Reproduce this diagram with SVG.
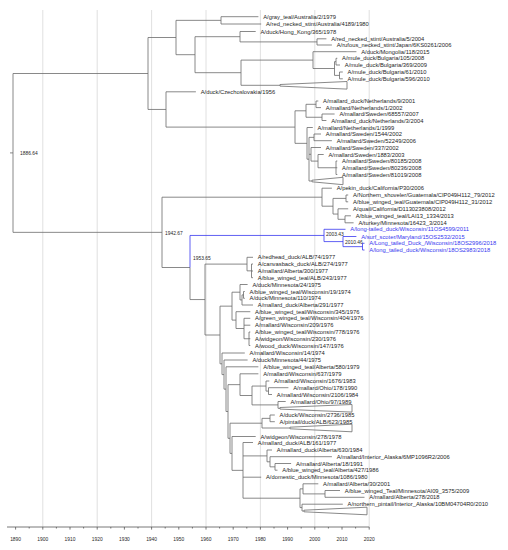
<svg xmlns="http://www.w3.org/2000/svg" width="508" height="550" viewBox="0 0 508 550">
<style>
.bg{fill:#fff}
.grid{stroke:#dcdcdc;stroke-width:0.9;fill:none}
.br{stroke:#6b6b6b;stroke-width:0.8;fill:none}
.bl{stroke:#3838f0;stroke-width:0.8;fill:none}
.tri{stroke:#6b6b6b;stroke-width:0.8;fill:none}
.ax{stroke:#555;stroke-width:0.8;fill:none}
text{font-family:"Liberation Sans",Arial,sans-serif;fill:#262626}
.lf{font-size:5.8px}
.lb{font-size:5.8px;fill:#3838f0}
.nd{font-size:4.9px}
.at{font-size:4.9px;text-anchor:middle}
</style>
<rect class="bg" x="0" y="0" width="508" height="550"/>
<g id="grid">
<path class="grid" d="M42.8,10V527 M97.2,10V527 M151.6,10V527 M206,10V527 M260.4,10V527 M314.8,10V527 M369.2,10V527"/>
</g>
<g id="connectors">
<path class="br" d="M10,152.9H13 M13,73.5V232.35 M13,73.5H148 M13,232.35H162"/>
<path class="br" d="M148,37.5V109.45 M148,37.5H176 M148,109.45H166"/>
<path class="br" d="M176,20.35V54.7 M176,20.35H221 M176,54.7H195"/>
<path class="br" d="M221,16.7V24 M221,16.7H258.4 M221,24H261.2"/>
<path class="br" d="M195,36.7V72.7 M195,36.7H240 M195,72.7H241"/>
<path class="br" d="M240,31.5V41.9 M240,31.5H255.7 M240,41.9H317"/>
<path class="br" d="M317,38.8V45 M317,38.8H326.4 M317,45H331.9"/>
<path class="br" d="M241,60.1V85.3 M241,60.1H313 M241,85.3H280"/>
<polygon class="tri" points="280,84.5 347,81.5 347,89.1 280,86.1"/>
<path class="br" d="M313,51.7V68.5 M313,51.7H356.4 M313,68.5H334.5"/>
<path class="br" d="M334.5,61.65V75.4 M334.5,61.65H336 M334.5,75.4H339.5"/>
<path class="br" d="M336,58.3V65 M336,58.3H337.3 M336,65H340"/>
<path class="br" d="M339.5,72V78.8 M339.5,72H342.8 M339.5,78.8H342.8"/>
<path class="br" d="M166,91.8V127.1 M166,91.8H195.9 M166,127.1H295"/>
<path class="br" d="M295,110.8V143.35 M295,110.8H306 M295,143.35H307"/>
<path class="br" d="M306,104.3V117.25 M306,104.3H316 M306,117.25H322"/>
<path class="br" d="M316,101V107.6 M316,101H318.3 M316,107.6H321"/>
<path class="br" d="M322,114V120.5 M322,114H334.6 M322,120.5H326.4"/>
<path class="br" d="M307,127.5V159.2 M307,127.5H312.8 M307,159.2H309"/>
<path class="br" d="M309,137.35V181 M309,137.35H314 M309,154.3H311 M309,181H312"/>
<polygon class="tri" points="312,180.2 343,177.3 343,184.7 312,181.8"/>
<path class="br" d="M314,134V140.7 M314,134H321 M314,140.7H331.9"/>
<path class="br" d="M311,147.5V161.1 M311,147.5H321 M311,161.1H318"/>
<path class="br" d="M318,154.5V167.75 M318,154.5H323.7 M318,167.75H336"/>
<path class="br" d="M336,161V174.5 M336,161H337.3 M336,167.75H337.3 M336,174.5H337.3"/>
<path class="br" d="M162,197.2V267.5 M162,197.2H322 M162,267.5H190"/>
<path class="br" d="M322,188.2V206.2 M322,188.2H331.9 M322,206.2H333"/>
<path class="br" d="M333,198.4V214.05 M333,198.4H346 M333,214.05H338"/>
<path class="br" d="M346,195V201.8 M346,195H348.2 M346,201.8H348.2"/>
<path class="br" d="M338,208.8V219.3 M338,208.8H348.2 M338,219.3H345"/>
<path class="br" d="M345,215.8V222.8 M345,215.8H350.9 M345,222.8H353.6"/>
<path class="br" d="M190,267.5V299.55 M190,299.55H205"/>
<path class="bl" d="M190,235.45V267.5 M190,235.45H324"/>
<path class="bl" d="M324,229.3V241.6 M324,229.3H345.5 M324,241.6H343"/>
<path class="bl" d="M343,236.5V246.65 M343,236.5H356.4 M343,246.65H362.5"/>
<path class="bl" d="M362.5,243.3V250 M362.5,243.3H364.5 M362.5,250H364.5"/>
<path class="br" d="M205,264.1V335 M205,264.1H247 M205,335H220"/>
<path class="br" d="M247,257.3V270.85 M247,257.3H253 M247,270.85H251.5"/>
<path class="br" d="M251.5,264V277.7 M251.5,264H253 M251.5,271H253 M251.5,277.7H253"/>
<path class="br" d="M220,306.15V363.8 M220,306.15H232 M220,363.8H222"/>
<path class="br" d="M232,292.2V320.1 M232,292.2H240 M232,320.1H236"/>
<path class="br" d="M240,284.5V299.95 M240,284.5H247.6 M240,299.95H242"/>
<path class="br" d="M242,294.9V305 M242,294.9H243.5 M242,305H253"/>
<path class="br" d="M243.5,291.5V298.3 M243.5,291.5H244.8 M243.5,298.3H244.8"/>
<path class="br" d="M236,311.7V328.5 M236,311.7H250.3 M236,328.5H244"/>
<path class="br" d="M244,318.3V338.75 M244,318.3H250.3 M244,325.2H250.3 M244,338.75H249"/>
<path class="br" d="M249,332V345.5 M249,332H250.3 M249,338.7H250.3 M249,345.5H250.3"/>
<path class="br" d="M222,353V374.6 M222,353H244.8 M222,374.6H224"/>
<path class="br" d="M224,360V389.15 M224,360H247.6 M224,389.15H226"/>
<path class="br" d="M226,366.8V411.5 M226,366.8H258.4 M226,411.5H228"/>
<path class="br" d="M228,384.65V438.3 M228,384.65H240 M228,438.3H230"/>
<path class="br" d="M240,373.8V395.5 M240,373.8H258.4 M240,395.5H252"/>
<path class="br" d="M252,386.05V404.9 M252,386.05H266 M252,404.9H278"/>
<path class="br" d="M266,381V391.1 M266,381H269.3 M266,391.1H268.5"/>
<path class="br" d="M268.5,387.7V394.5 M268.5,387.7H288.4 M268.5,394.5H272"/>
<path class="br" d="M278,401.5V408.3 M278,401.5H285.7 M278,408.3H280"/>
<polygon class="tri" points="280,407.5 352,404.5 352,412.1 280,409.1"/>
<path class="br" d="M230,423.2V453.4 M230,423.2H262 M230,453.4H232"/>
<path class="br" d="M262,418.35V428 M262,418.35H270 M262,428H290"/>
<polygon class="tri" points="290,427.2 352,424.2 352,431.8 290,428.8"/>
<path class="br" d="M270,415V421.7 M270,415H274.8 M270,421.7H274.8"/>
<path class="br" d="M232,436.5V470.35 M232,436.5H255.7 M232,470.35H243"/>
<path class="br" d="M243,442.5V498.2 M243,442.5H253 M243,455.9H267 M243,477.2H261.2 M243,498.2H300"/>
<path class="br" d="M267,450V461.8 M267,450H272 M267,461.8H270"/>
<path class="br" d="M270,456.7V466.85 M270,456.7H331.9 M270,466.85H275"/>
<path class="br" d="M275,463.5V470.2 M275,463.5H291.1 M275,470.2H277.5"/>
<path class="br" d="M300,488.85V507.6 M300,488.85H303 M300,507.6H302"/>
<path class="br" d="M303,483.8V493.9 M303,483.8H318.3 M303,493.9H325"/>
<path class="br" d="M325,490.5V497.3 M325,490.5H340 M325,497.3H364.5"/>
<path class="br" d="M302,504.2V511 M302,504.2H342.8 M302,511H304"/>
<polygon class="tri" points="304,510.2 367,507.2 367,514.8 304,511.8"/>
</g>
<g id="node-labels">
<g id="nl-root"><text class="nd" x="20" y="154.5">1886.64</text></g>
<g id="nl-1942"><text class="nd" x="165" y="234.8">1942.67</text></g>
<g id="nl-1953"><text class="nd" x="193" y="259.6">1953.65</text></g>
<g id="nl-2003"><text class="nd" x="326" y="235.8">2003.43</text></g>
<g id="nl-2010"><text class="nd" x="345" y="244.1">2010.46</text></g>
</g>
<g id="tips">
<g id="t1"><text class="lf" x="263.2" y="18.8">A/gray_teal/Australia/2/1979</text></g>
<g id="t2"><text class="lf" x="266" y="26.1">A/red_necked_stint/Australia/4189/1980</text></g>
<g id="t3"><text class="lf" x="260.5" y="33.6">A/duck/Hong_Kong/365/1978</text></g>
<g id="t4"><text class="lf" x="331.2" y="40.9">A/red_necked_stint/Australia/5/2004</text></g>
<g id="t5"><text class="lf" x="336.7" y="47.1">A/rufous_necked_stint/Japan/6KS0261/2006</text></g>
<g id="t6"><text class="lf" x="361.2" y="53.8">A/duck/Mongolia/118/2015</text></g>
<g id="t7"><text class="lf" x="342.1" y="60.4">A/mule_duck/Bulgaria/105/2008</text></g>
<g id="t8"><text class="lf" x="344.8" y="67.1">A/mule_duck/Bulgaria/369/2009</text></g>
<g id="t9"><text class="lf" x="347.6" y="74.1">A/mule_duck/Bulgaria/61/2010</text></g>
<g id="t10"><text class="lf" x="347.6" y="80.9">A/mule_duck/Bulgaria/596/2010</text></g>
<g id="t11"><text class="lf" x="200.7" y="93.9">A/duck/Czechoslovakia/1956</text></g>
<g id="t12"><text class="lf" x="323.1" y="103.1">A/mallard_duck/Netherlands/9/2001</text></g>
<g id="t13"><text class="lf" x="325.8" y="109.7">A/mallard/Netherlands/1/2002</text></g>
<g id="t14"><text class="lf" x="339.4" y="116.1">A/mallard/Sweden/68557/2007</text></g>
<g id="t15"><text class="lf" x="331.2" y="122.6">A/mallard_duck/Netherlands/3/2004</text></g>
<g id="t16"><text class="lf" x="317.6" y="129.6">A/mallard/Netherlands/1/1999</text></g>
<g id="t17"><text class="lf" x="325.8" y="136.1">A/mallard/Sweden/1544/2002</text></g>
<g id="t18"><text class="lf" x="336.7" y="142.8">A/mallard/Sweden/52249/2006</text></g>
<g id="t19"><text class="lf" x="325.8" y="149.6">A/mallard/Sweden/337/2002</text></g>
<g id="t20"><text class="lf" x="328.5" y="156.6">A/mallard/Sweden/1883/2003</text></g>
<g id="t21"><text class="lf" x="342.1" y="163.1">A/mallard/Sweden/80185/2008</text></g>
<g id="t22"><text class="lf" x="342.1" y="169.8">A/mallard/Sweden/80236/2008</text></g>
<g id="t23"><text class="lf" x="342.1" y="176.6">A/mallard/Sweden/81019/2008</text></g>
<g id="t24"><text class="lf" x="336.7" y="190.3">A/pekin_duck/California/P30/2006</text></g>
<g id="t25"><text class="lf" x="353" y="197.1">A/Northern_shoveler/Guatemala/CIP049H112_79/2012</text></g>
<g id="t26"><text class="lf" x="353" y="203.9">A/blue_winged_teal/Guatemala/CIP049H112_31/2012</text></g>
<g id="t27"><text class="lf" x="353" y="210.9">A/quail/California/D113023808/2012</text></g>
<g id="t28"><text class="lf" x="355.7" y="217.9">A/blue_winged_teal/LAI13_1334/2013</text></g>
<g id="t29"><text class="lf" x="358.4" y="224.9">A/turkey/Minnesota/16423_3/2014</text></g>
<g id="t30"><text class="lb" x="350.3" y="231.4">A/long-tailed_duck/Wisconsin/11OS4599/2011</text></g>
<g id="t31"><text class="lb" x="361.2" y="238.6">A/surf_scoter/Maryland/15OS2532/2015</text></g>
<g id="t32"><text class="lb" x="369.3" y="245.4">A/Long_tailed_Duck_/Wisconsin/18OS2996/2018</text></g>
<g id="t33"><text class="lb" x="369.3" y="252.1">A/long_tailed_duck/Wisconsin/18OS2983/2018</text></g>
<g id="t34"><text class="lf" x="257.8" y="259.4">A/redhead_duck/ALB/74/1977</text></g>
<g id="t35"><text class="lf" x="257.8" y="266.1">A/canvasback_duck/ALB/274/1977</text></g>
<g id="t36"><text class="lf" x="257.8" y="273.1">A/mallard/Alberta/300/1977</text></g>
<g id="t37"><text class="lf" x="257.8" y="279.8">A/blue_winged_teal/ALB/243/1977</text></g>
<g id="t38"><text class="lf" x="252.4" y="286.6">A/duck/Minnesota/24/1975</text></g>
<g id="t39"><text class="lf" x="249.6" y="293.6">A/blue_winged_teal/Wisconsin/19/1974</text></g>
<g id="t40"><text class="lf" x="249.6" y="300.4">A/duck/Minnesota/110/1974</text></g>
<g id="t41"><text class="lf" x="257.8" y="307.1">A/mallard_duck/Alberta/291/1977</text></g>
<g id="t42"><text class="lf" x="255.1" y="313.8">A/blue_winged_teal/Wisconsin/345/1976</text></g>
<g id="t43"><text class="lf" x="255.1" y="320.4">A/green_winged_teal/Wisconsin/404/1976</text></g>
<g id="t44"><text class="lf" x="255.1" y="327.3">A/mallard/Wisconsin/209/1976</text></g>
<g id="t45"><text class="lf" x="255.1" y="334.1">A/blue_winged_teal/Wisconsin/778/1976</text></g>
<g id="t46"><text class="lf" x="255.1" y="340.8">A/widgeon/Wisconsin/230/1976</text></g>
<g id="t47"><text class="lf" x="255.1" y="347.6">A/wood_duck/Wisconsin/147/1976</text></g>
<g id="t48"><text class="lf" x="249.6" y="355.1">A/mallard/Wisconsin/14/1974</text></g>
<g id="t49"><text class="lf" x="252.4" y="362.1">A/duck/Minnesota/44/1975</text></g>
<g id="t50"><text class="lf" x="263.2" y="368.9">A/blue_winged_teal/Alberta/580/1979</text></g>
<g id="t51"><text class="lf" x="263.2" y="375.9">A/mallard/Wisconsin/637/1979</text></g>
<g id="t52"><text class="lf" x="274.1" y="383.1">A/mallard/Wisconsin/1676/1983</text></g>
<g id="t53"><text class="lf" x="293.2" y="389.8">A/mallard/Ohio/178/1990</text></g>
<g id="t54"><text class="lf" x="276.8" y="396.6">A/mallard/Wisconsin/2106/1984</text></g>
<g id="t55"><text class="lf" x="290.5" y="403.6">A/mallard/Ohio/97/1989</text></g>
<g id="t56"><text class="lf" x="279.6" y="417.1">A/duck/Wisconsin/2736/1985</text></g>
<g id="t57"><text class="lf" x="279.6" y="423.8">A/pintail/duck/ALB/623/1985</text></g>
<g id="t58"><text class="lf" x="260.5" y="438.6">A/widgeon/Wisconsin/278/1978</text></g>
<g id="t59"><text class="lf" x="257.8" y="444.6">A/mallard_duck/ALB/161/1977</text></g>
<g id="t60"><text class="lf" x="276.8" y="452.1">A/mallard_duck/Alberta/630/1984</text></g>
<g id="t61"><text class="lf" x="336.7" y="458.8">A/mallard/Interior_Alaska/6MP1096R2/2006</text></g>
<g id="t62"><text class="lf" x="295.9" y="465.6">A/mallard/Alberta/18/1991</text></g>
<g id="t63"><text class="lf" x="282.3" y="472.3">A/blue_winged_teal/Alberta/427/1986</text></g>
<g id="t64"><text class="lf" x="266" y="479.3">A/domestic_duck/Minnesota/1086/1980</text></g>
<g id="t65"><text class="lf" x="323.1" y="485.9">A/mallard/Alberta/30/2001</text></g>
<g id="t66"><text class="lf" x="344.8" y="492.6">A/blue_winged_Teal/Minnesota/AI09_3575/2009</text></g>
<g id="t67"><text class="lf" x="369.3" y="499.4">A/mallard/Alberta/278/2018</text></g>
<g id="t68"><text class="lf" x="347.6" y="506.3">A/northern_pintail/Interior_Alaska/10BM04704R0/2010</text></g>
</g>
<g id="axis">
<path class="ax" d="M7,527H369.2"/>
<path class="ax" d="M15.6,527V529.6 M42.8,527V529.6 M70,527V529.6 M97.2,527V529.6 M124.4,527V529.6 M151.6,527V529.6 M178.8,527V529.6 M206,527V529.6 M233.2,527V529.6 M260.4,527V529.6 M287.6,527V529.6 M314.8,527V529.6 M342,527V529.6 M369.2,527V529.6"/>
<path class="ax" d="M29.2,527V528.5 M56.4,527V528.5 M83.6,527V528.5 M110.8,527V528.5 M138,527V528.5 M165.2,527V528.5 M192.4,527V528.5 M219.6,527V528.5 M246.8,527V528.5 M274,527V528.5 M301.2,527V528.5 M328.4,527V528.5 M355.6,527V528.5"/>
<text class="at" x="15.6" y="541.2">1890</text>
<text class="at" x="42.8" y="541.2">1900</text>
<text class="at" x="70" y="541.2">1910</text>
<text class="at" x="97.2" y="541.2">1920</text>
<text class="at" x="124.4" y="541.2">1930</text>
<text class="at" x="151.6" y="541.2">1940</text>
<text class="at" x="178.8" y="541.2">1950</text>
<text class="at" x="206" y="541.2">1960</text>
<text class="at" x="233.2" y="541.2">1970</text>
<text class="at" x="260.4" y="541.2">1980</text>
<text class="at" x="287.6" y="541.2">1990</text>
<text class="at" x="314.8" y="541.2">2000</text>
<text class="at" x="342" y="541.2">2010</text>
<text class="at" x="369.2" y="541.2">2020</text>
</g>
</svg>
